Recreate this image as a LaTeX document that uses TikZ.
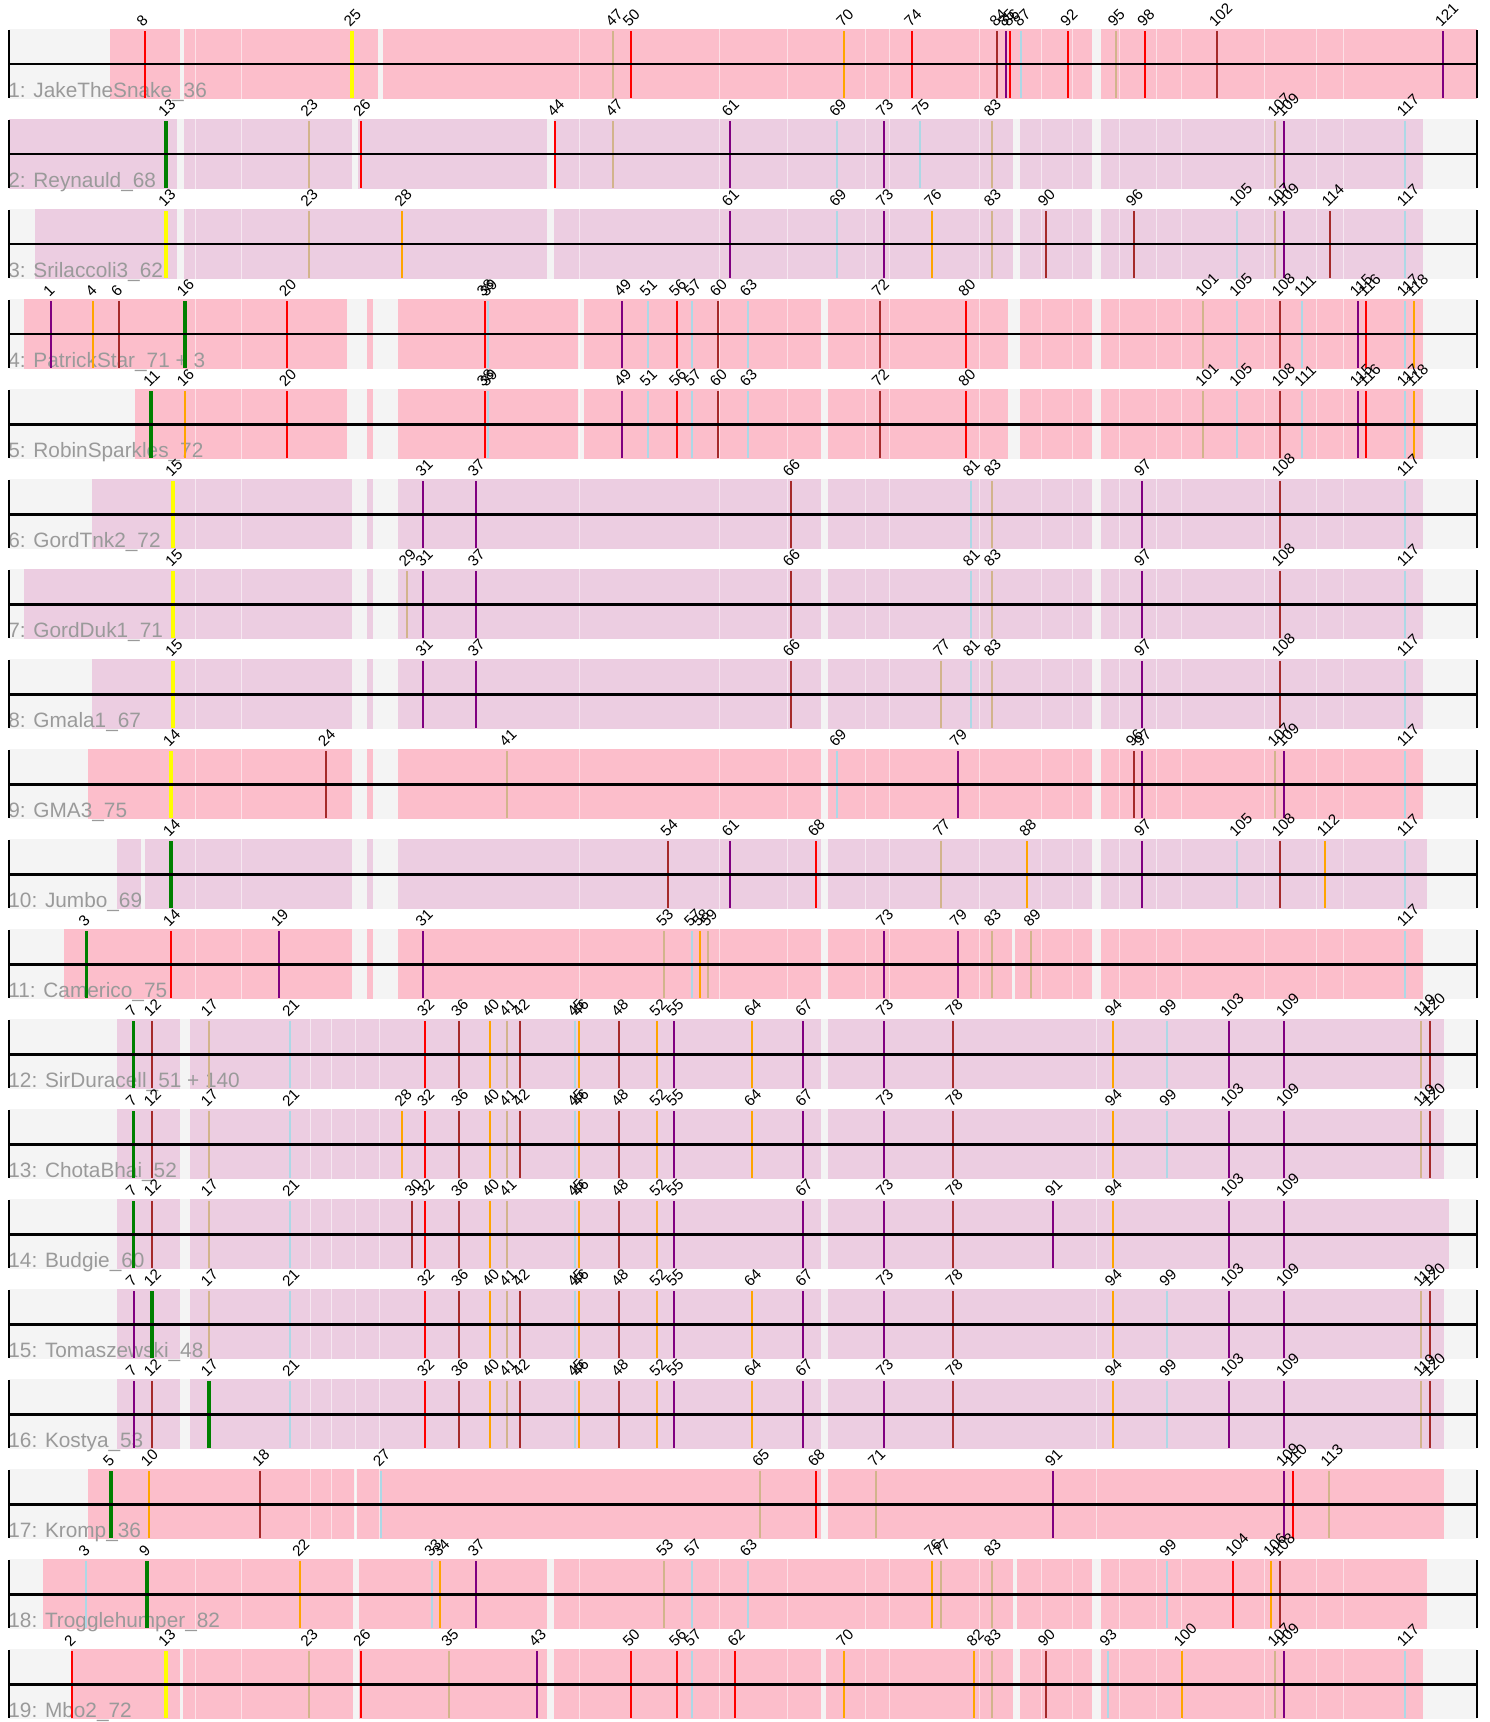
\documentclass[tikz,border=0pt]{standalone}
\usepackage{fontspec}
\setmainfont{Liberation Sans}
\definecolor{vred}{HTML}{FF0000}
\definecolor{vbrown}{HTML}{A52A2A}
\definecolor{vpurple}{HTML}{800080}
\definecolor{vlblue}{HTML}{ADD8E6}
\definecolor{vtan}{HTML}{D2B48C}
\definecolor{vorange}{HTML}{FFA500}
\definecolor{vgreen}{HTML}{008000}
\definecolor{vyellow}{HTML}{FFFF00}
\definecolor{pinkband}{HTML}{FCBECB}
\definecolor{mauveband}{HTML}{ECCDE1}
\definecolor{bgg}{HTML}{F4F4F4}
\definecolor{labgray}{HTML}{9A9A9A}
\newcommand\vp[2]{\expandafter\def\csname vxp#1\endcsname{#2}}
\newcommand\vx[1]{\csname vxp#1\endcsname}
\vp{1}{51.2}\vp{2}{72.2}\vp{3}{86.4}\vp{4}{93.3}\vp{5}{111}\vp{6}{119.1}\vp{7}{133.5}\vp{8}{144.5}\vp{9}{146.9}\vp{10}{148.8}
\vp{11}{151.2}\vp{12}{151.7}\vp{13}{166.3}\vp{14}{170.8}\vp{15}{173.2}\vp{16}{184.7}\vp{17}{208.6}\vp{18}{260.3}\vp{19}{279}\vp{20}{287}
\vp{21}{290}\vp{22}{300}\vp{23}{308.6}\vp{24}{325.8}\vp{25}{351.7}\vp{26}{361.2}\vp{27}{380.9}\vp{28}{402.4}\vp{29}{406.7}\vp{30}{412.4}
\vp{31}{423.4}\vp{32}{424.9}\vp{33}{432.1}\vp{34}{440.2}\vp{35}{449.3}\vp{36}{458.9}\vp{37}{475.6}\vp{38}{484.7}\vp{39}{488}\vp{40}{490}
\vp{41}{507.2}\vp{42}{520.1}\vp{43}{536.8}\vp{44}{555}\vp{45}{575.1}\vp{46}{579.4}\vp{47}{613.4}\vp{48}{619.1}\vp{49}{622}\vp{50}{630.6}
\vp{51}{647.8}\vp{52}{657.4}\vp{53}{664.1}\vp{54}{668.4}\vp{55}{674.2}\vp{56}{677}\vp{57}{691.9}\vp{58}{700}\vp{59}{708.1}\vp{60}{717.7}
\vp{61}{729.7}\vp{62}{735.4}\vp{63}{747.8}\vp{64}{752}\vp{65}{760.1}\vp{66}{790.7}\vp{67}{803.2}\vp{68}{815.6}\vp{69}{837.1}\vp{70}{844.3}
\vp{71}{875.9}\vp{72}{879.7}\vp{73}{884}\vp{74}{912.2}\vp{75}{919.9}\vp{76}{932.3}\vp{77}{941}\vp{78}{953.4}\vp{79}{957.7}\vp{80}{966.3}
\vp{81}{970.6}\vp{82}{974.4}\vp{83}{991.7}\vp{84}{997.4}\vp{85}{1005.6}\vp{86}{1010.3}\vp{87}{1021.3}\vp{88}{1027.1}\vp{89}{1031.4}\vp{90}{1045.7}
\vp{91}{1052.9}\vp{92}{1068.2}\vp{93}{1107.5}\vp{94}{1112.7}\vp{95}{1115.6}\vp{96}{1133.8}\vp{97}{1141.9}\vp{98}{1145.3}\vp{99}{1167.3}\vp{100}{1181.6}
\vp{101}{1203.2}\vp{102}{1217}\vp{103}{1228.5}\vp{104}{1233.3}\vp{105}{1237.1}\vp{106}{1271.1}\vp{107}{1275.4}\vp{108}{1279.7}\vp{109}{1284}\vp{110}{1292.6}
\vp{111}{1302.2}\vp{112}{1324.7}\vp{113}{1328.5}\vp{114}{1329.5}\vp{115}{1357.7}\vp{116}{1366.3}\vp{117}{1404.6}\vp{118}{1413.7}\vp{119}{1421.3}\vp{120}{1430}
\vp{121}{1442.9}
\def\wlA{195.2,241.6,579,719,787,865,889,979,1041.4,1072.5,1119,1156,1181.6,1264,1316.6,1343}
\def\wlB{310,331,355,379,1096.5}
\tikzset{
  cR/.style={draw=vred,line width=1pt},
  cB/.style={draw=vbrown,line width=1pt},
  cP/.style={draw=vpurple,line width=1pt},
  cL/.style={draw=vlblue,line width=1pt},
  cT/.style={draw=vtan,line width=1pt},
  cO/.style={draw=vorange,line width=1pt},
  cG/.style={draw=vgreen,line width=1.9pt},
  cY/.style={draw=vyellow,line width=1.9pt},
  sepline/.style={draw=white,draw opacity=0.55,line width=0.5pt},
  numlab/.style={font=\fontsize{7.6}{8.6}\selectfont,rotate=45,anchor=south west,inner sep=0pt},
  rowlab/.style={font=\fontsize{10.4}{12}\selectfont,text=labgray,anchor=base west,inner sep=0pt},
  mainline/.style={draw=black,line width=1.2pt},
  endtick/.style={draw=black,line width=1pt}
}
\newcommand\drawrow[6]{%
  \pgfmathsetmacro\yl{64.3+90*(#1-1)}%
  \fill[bgg] (8.6,\yl-35) rectangle (1476.8,\yl+35);
  \foreach \a/\b in {#4} {\fill[#3] (\a,\yl-35) rectangle (\b,\yl+35);}
  \foreach \w in #6 {\draw[sepline] (\w,\yl-35) -- (\w,\yl+35);}
  \node[rowlab] (r#1lab) at (8,\yl+33) {#2};
  \foreach \n/\s in {#5} {%
    \draw[\s] (\vx{\n},\yl-33) -- (\vx{\n},\yl+34);
    \node[numlab] (r#1n\n) at (\vx{\n}-1.5,\yl-36) {\n};}
  \draw[mainline] (8.6,\yl) -- (1476.8,\yl);
  \draw[endtick] (8.6,\yl-34) -- (8.6,\yl+34);
  \draw[endtick] (1476.8,\yl-34) -- (1476.8,\yl+34);
}
\begin{document}
\begin{tikzpicture}[x=0.5pt,y=-0.5pt]
\useasboundingbox (0,0) rectangle (1489,1722);
\fill[white] (0,0) rectangle (1489,1722);
\drawrow{1}{1: JakeTheSnake\_36}{pinkband}{109.6/179.9,184.2/378,382.8/1091.7,1101.2/1476.8}
 {8/cR,25/cY,47/cT,50/cR,70/cO,74/cR,84/cB,85/cP,86/cR,87/cL,92/cR,95/cT,98/cR,102/cB,121/cP}{\wlA}
\drawrow{2}{2: Reynauld\_68}{mauveband}{8.6/177,184.2/351.7,357.9/546.9,554/1013.2,1020.4/1091.7,1101.2/1423.3}
 {13/cG,23/cT,26/cR,44/cR,47/cT,61/cP,69/cL,73/cP,75/cL,83/cT,107/cT,109/cP,117/cL}{\wlA}
\drawrow{3}{3: Srilaccoli3\_62}{mauveband}{35.4/177,184.2/546.9,553.6/1013.2,1020.4/1091.7,1101.2/1423.3}
 {13/cY,23/cT,28/cO,61/cP,69/cL,73/cP,76/cO,83/cT,90/cB,96/cB,105/cL,107/cT,109/cP,114/cB,117/cL}{\wlA}
\drawrow{4}{4: PatrickStar\_71 + 3}{pinkband}{23.9/346.9,367/372.7,398/577.5,583.7/821.3,827.6/1008,1019.9/1091.7,1101.2/1423.3}
 {1/cP,4/cO,6/cB,16/cG,20/cR,38/cR,39/cL,49/cP,51/cL,56/cR,57/cL,60/cB,63/cL,72/cB,80/cR,101/cT,105/cL,108/cB,111/cL,115/cP,116/cR,117/cL,118/cO}{\wlA}
\drawrow{5}{5: RobinSparkles\_72}{pinkband}{134.9/346.9,367/372.7,398/577.5,583.7/821.3,827.6/1008,1019.9/1091.7,1101.2/1423.3}
 {11/cG,16/cO,20/cR,38/cR,39/cL,49/cP,51/cL,56/cR,57/cL,60/cB,63/cL,72/cB,80/cR,101/cT,105/cL,108/cB,111/cL,115/cP,116/cR,117/cL,118/cO}{\wlA}
\drawrow{6}{6: GordTnk2\_72}{mauveband}{91.9/351.7,367/372.7,398/821.3,827.6/1091.7,1101.2/1423.3}
 {15/cY,31/cP,37/cP,66/cB,81/cL,83/cT,97/cP,108/cB,117/cL}{\wlA}
\drawrow{7}{7: GordDuk1\_71}{mauveband}{23.9/351.7,367/372.7,398/821.3,827.6/1091.7,1101.2/1423.3}
 {15/cY,29/cT,31/cP,37/cP,66/cB,81/cL,83/cT,97/cP,108/cB,117/cL}{\wlA}
\drawrow{8}{8: Gmala1\_67}{mauveband}{91.9/351.7,367/372.7,398/821.3,827.6/1091.7,1101.2/1423.3}
 {15/cY,31/cP,37/cP,66/cB,77/cT,81/cL,83/cT,97/cP,108/cB,117/cL}{\wlA}
\drawrow{9}{9: GMA3\_75}{pinkband}{88/351.7,367/372.7,398/821.3,827.6/1091.7,1101.2/1423.3}
 {14/cY,24/cB,41/cT,69/cL,79/cP,96/cB,97/cP,107/cT,109/cP,117/cL}{\wlA}
\drawrow{10}{10: Jumbo\_69}{mauveband}{116.7/140.7,144.5/351.7,367/372.7,398/821.3,827.6/1091.7,1101.2/1427.1}
 {14/cG,54/cB,61/cP,68/cR,77/cT,88/cO,97/cP,105/cL,108/cB,112/cO,117/cL}{\wlA}
\drawrow{11}{11: Camerico\_75}{pinkband}{64.1/351.7,367/372.7,398/821.3,827.6/1011.8,1015.1/1091.7,1101.2/1423.3}
 {3/cG,14/cR,19/cP,31/cP,53/cT,57/cL,58/cO,59/cT,73/cP,79/cP,83/cT,89/cT,117/cL}{\wlA}
\drawrow{12}{12: SirDuracell\_51 + 140}{mauveband}{116.7/179.9,190/821.3,827.6/1444.3}
 {7/cG,12/cB,17/cT,21/cL,32/cR,36/cB,40/cO,41/cT,42/cB,45/cL,46/cO,48/cB,52/cO,55/cP,64/cO,67/cP,73/cP,78/cB,94/cO,99/cL,103/cP,109/cP,119/cT,120/cB}{\wlB}
\drawrow{13}{13: ChotaBhai\_52}{mauveband}{116.7/179.9,190/821.3,827.6/1444.3}
 {7/cG,12/cB,17/cT,21/cL,28/cO,32/cR,36/cB,40/cO,41/cT,42/cB,45/cL,46/cO,48/cB,52/cO,55/cP,64/cO,67/cP,73/cP,78/cB,94/cO,99/cL,103/cP,109/cP,119/cT,120/cB}{\wlB}
\drawrow{14}{14: Budgie\_60}{mauveband}{116.7/179.9,190/821.3,827.6/1448.6}
 {7/cG,12/cB,17/cT,21/cL,30/cB,32/cR,36/cB,40/cO,41/cT,45/cL,46/cO,48/cB,52/cO,55/cP,67/cP,73/cP,78/cB,91/cP,94/cO,103/cP,109/cP}{\wlB}
\drawrow{15}{15: Tomaszewski\_48}{mauveband}{116.7/179.9,190/821.3,827.6/1444.3}
 {7/cP,12/cG,17/cT,21/cL,32/cR,36/cB,40/cO,41/cT,42/cB,45/cL,46/cO,48/cB,52/cO,55/cP,64/cO,67/cP,73/cP,78/cB,94/cO,99/cL,103/cP,109/cP,119/cT,120/cB}{\wlB}
\drawrow{16}{16: Kostya\_53}{mauveband}{116.7/179.9,190/821.3,827.6/1444.3}
 {7/cP,12/cB,17/cG,21/cL,32/cR,36/cB,40/cO,41/cT,42/cB,45/cL,46/cO,48/cB,52/cO,55/cP,64/cO,67/cP,73/cP,78/cB,94/cO,99/cL,103/cP,109/cP,119/cT,120/cB}{\wlB}
\drawrow{17}{17: Kromp\_36}{pinkband}{88/354.1,356.5/821.3,827.6/1444.3}
 {5/cG,10/cO,18/cB,27/cL,65/cT,68/cR,71/cT,91/cP,109/cP,110/cR,113/cT}{\wlB}
\drawrow{18}{18: Trogglehumper\_82}{pinkband}{43.1/352.6,358.9/546.9,553.6/1013.2,1016.6/1091.7,1101.2/1427.1}
 {3/cL,9/cG,22/cO,33/cL,34/cO,37/cP,53/cT,57/cL,63/cL,76/cO,77/cT,83/cT,99/cL,104/cR,106/cO,108/cB}{\wlA}
\drawrow{19}{19: Mbo2\_72}{pinkband}{70.8/179.9,183.3/352.6,358.9/546.9,553.6/821.3,826.1/1013.2,1020.4/1091.7,1101.2/1423.3}
 {2/cR,13/cY,23/cT,26/cR,35/cT,43/cP,50/cR,56/cR,57/cL,62/cR,70/cO,82/cO,83/cT,90/cB,93/cL,100/cO,107/cT,109/cP,117/cL}{\wlA}
\end{tikzpicture}
\end{document}
